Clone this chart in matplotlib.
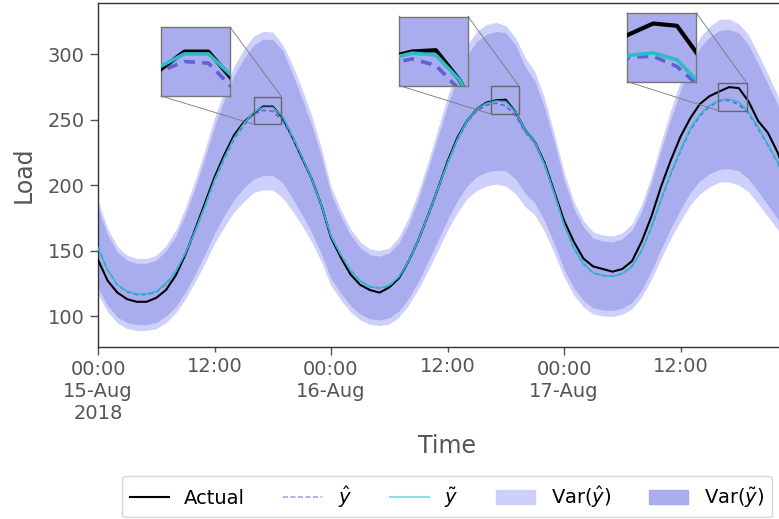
import numpy as np
import pandas as pd
import matplotlib
matplotlib.use("Agg")
import matplotlib.pyplot as plt
import matplotlib.dates as mdates
from matplotlib.lines import Line2D
from matplotlib.patches import Patch
from matplotlib.ticker import FixedLocator, FixedFormatter
from mpl_toolkits.axes_grid1.inset_locator import mark_inset

# ---------------- data (hourly, starting 2018-08-15 00:00) ----------------
start = "2018-08-15 00:00"
actual = [143, 127, 118, 113, 111, 111, 114, 120, 131, 147, 166, 186, 206, 223, 238, 248, 254.5, 260, 260, 251.5, 237, 221, 205, 185,
          160, 145, 132, 124, 120, 118, 122, 129, 142, 158, 177, 197, 218, 236, 249, 258, 263, 264.8, 265.2, 256, 242, 233, 217, 195,
          173, 157, 144, 138, 136, 134, 136, 142, 157, 176, 199, 219, 237, 251, 262, 268, 271.5, 274.8, 274.1, 264, 249, 240, 225, 205,
          185]
y_hat = [152.5, 135, 124, 118.5, 116.5, 116.5, 118.5, 124.5, 134, 148, 165, 183.5, 203.5, 220, 235, 245.5, 254, 257, 256.5, 249, 236.5, 221.5, 205, 185,
         161, 147, 135, 127, 122.5, 121.5, 123, 130, 142, 158, 176.5, 196.5, 216.5, 234, 248, 256.5, 261, 262.5, 260.5, 253, 240.5, 232, 215.5, 193.5,
         170, 152, 140, 133, 131, 130.5, 132.5, 138, 150, 167.5, 188.5, 208.5, 226, 242, 253, 260, 264.4, 264.7, 261.5, 255, 243, 230.5, 217.5, 199.5,
         180]
y_tilde = [152, 135, 124, 119, 117, 117, 119, 125, 134, 148, 165, 184, 204, 221, 236, 247, 255.5, 259.3, 259.3, 252.5, 238, 222, 205, 185,
           161, 147, 135, 127, 122.5, 121.5, 123.5, 130, 142, 158, 177, 197, 217, 235, 249, 258, 262.5, 264.3, 263.7, 256, 242, 233, 216, 194,
           170, 152, 140, 133, 131, 130.5, 132.5, 138, 150, 168, 189, 209, 227, 243, 254, 261, 265, 265.7, 263.6, 256, 244, 231, 218, 200,
           180]
# half-widths of the uncertainty bands
band_hat = [35.7, 31.7, 29.1, 28, 27.5, 27.5, 28, 29.4, 31.5, 34.8, 38.8, 43.2, 47.9, 51.9, 55.5, 58, 59.7, 60.4, 60.3, 58.5, 55.9, 52.2, 48.2, 43.5,
            37.8, 34.5, 31.7, 29.8, 28.8, 28.6, 29, 30.6, 33.4, 37.1, 41.6, 46.3, 51, 55.2, 58.5, 60.6, 61.6, 61.7, 61.2, 59.5, 56.9, 54.8, 50.8, 45.6,
            40, 35.7, 32.9, 31.3, 30.8, 30.7, 31.1, 32.4, 35.3, 39.5, 44.4, 49.1, 53.3, 57.1, 59.7, 61.1, 62.1, 62.2, 61.5, 59.9, 57.3, 54.3, 51.2, 47,
            42.3]
band_tilde = [30.4, 27, 24.8, 23.8, 23.4, 23.4, 23.8, 25, 26.8, 29.6, 33, 36.8, 40.8, 44.2, 47.2, 49.4, 51, 51.9, 51.9, 50.4, 47.6, 44.4, 41, 37,
              32.2, 29.4, 27, 25.4, 24.5, 24.3, 24.7, 26, 28.4, 31.6, 35.4, 39.4, 43.4, 47, 49.8, 51.6, 52.5, 52.9, 52.7, 51.2, 48.4, 46.6, 43.2, 38.8,
              34, 30.4, 28, 26.6, 26.2, 26.1, 26.5, 27.6, 30, 33.6, 37.8, 41.8, 45.4, 48.6, 50.8, 52.2, 53, 53.1, 52.7, 51.2, 48.8, 46.2, 43.6, 40,
              36]
major_labels = ["00:00\n15-Aug\n2018", "00:00\n16-Aug", "00:00\n17-Aug"]
minor_labels = ["12:00", "12:00", "12:00"]
legend_labels = ["Actual", r"$\hat{y}$", r"$\tilde{y}$", r"Var($\hat{y}$)", r"Var($\tilde{y}$)"]
# zoom windows: (start hour, end hour, ymin, ymax)
zooms = [(16.03, 18.9, 246.5, 267.5), (40.44, 43.36, 254.3, 275.6), (63.9, 66.8, 256.9, 278.2)]

# ---------------- styling ----------------
TXT = "#555555"
C_LIGHT = "#cdd0fa"
C_DARK = "#a9adee"
C_HAT = "#5f5fd6"
C_TIL = "#2bbcc8"
plt.rcParams["font.family"] = ["DejaVu Sans"]
plt.rcParams["mathtext.fontset"] = "dejavusans"

t = pd.date_range(start, periods=len(actual), freq="h")
x = mdates.date2num(t.to_pydatetime())
t0 = x[0]
hr = 1.0 / 24

a = np.array(actual); yh = np.array(y_hat); yt = np.array(y_tilde)
bh = np.array(band_hat); bt = np.array(band_tilde)

W, H = 779, 519
fig = plt.figure(figsize=(W / 100, H / 100), dpi=100)
ax = fig.add_axes([98 / W, 1 - 347 / H, (797 - 98) / W, (347 - 3) / H])


def draw(axx, lw_a, lw_h, lw_t):
    axx.fill_between(x, yh - bh, yh + bh, color=C_LIGHT, lw=0, zorder=1)
    axx.fill_between(x, yt - bt, yt + bt, color=C_DARK, lw=0, zorder=2)
    axx.plot(x, a, color="black", lw=lw_a, zorder=3)
    axx.plot(x, yh, color=C_HAT, lw=lw_h, ls=(0, (3, 2)), zorder=4)
    axx.plot(x, yt, color=C_TIL, lw=lw_t, zorder=5)


draw(ax, 1.5, 1.1, 1.1)
ax.set_xlim(t0, t0 + 72 * hr)
ax.set_ylim(76.5, 339)

ax.xaxis.set_major_locator(FixedLocator([t0 + 24 * i * hr for i in range(3)]))
ax.xaxis.set_major_formatter(FixedFormatter(major_labels))
ax.xaxis.set_minor_locator(FixedLocator([t0 + (12 + 24 * i) * hr for i in range(3)]))
ax.xaxis.set_minor_formatter(FixedFormatter(minor_labels))
ax.set_yticks([100, 150, 200, 250, 300])

for s in ax.spines.values():
    s.set_color("#333333")
    s.set_linewidth(1.0)
ax.tick_params(axis="both", which="major", length=6, width=1, color="#555555",
               labelsize=14, labelcolor=TXT)
ax.tick_params(axis="x", which="minor", length=3.5, width=1, color="#555555",
               labelsize=14, labelcolor=TXT)
ax.set_xlabel("Time", fontsize=17, color=TXT, labelpad=8)
ax.set_ylabel("Load", fontsize=17, color=TXT, labelpad=9)

# ---------------- insets ----------------
inset_px = [(161, 27), (399, 16.5), (627, 12.5)]
for (px, py), (h0, h1, y0, y1) in zip(inset_px, zooms):
    axins = fig.add_axes([px / W, 1 - (py + 69) / H, 69 / W, 69 / H])
    draw(axins, 3, 2.6, 2.6)
    axins.set_xlim(t0 + h0 * hr, t0 + h1 * hr)
    axins.set_ylim(y0, y1)
    axins.set_xticks([]); axins.set_yticks([])
    for s in axins.spines.values():
        s.set_color("#777777")
        s.set_linewidth(1.0)
    pp, p1, p2 = mark_inset(ax, axins, loc1=1, loc2=3, fc="none", ec="#777777", lw=0.6)
    pp.set_zorder(10); pp.set_linewidth(1.0); pp.set_edgecolor("#666666")
    p1.set_zorder(10); p2.set_zorder(10)

# ---------------- legend ----------------
handles = [Line2D([], [], color="black", lw=1.5),
           Line2D([], [], color="#a3a3ea", lw=1.2, ls=(0, (3, 1.5))),
           Line2D([], [], color="#8fdfe0", lw=1.5),
           Patch(color=C_LIGHT),
           Patch(color=C_DARK)]
leg = fig.legend(handles, legend_labels, loc="upper center", ncol=5,
                 bbox_to_anchor=(447 / W, 1 - 476 / H), fontsize=14,
                 frameon=True, handlelength=2.0, columnspacing=1.95,
                 handletextpad=0.8, borderpad=0.4, borderaxespad=0)
for txt in leg.get_texts():
    txt.set_color("black")
leg.get_frame().set_edgecolor("#cccccc")

fig.savefig("out.png", dpi=100)
